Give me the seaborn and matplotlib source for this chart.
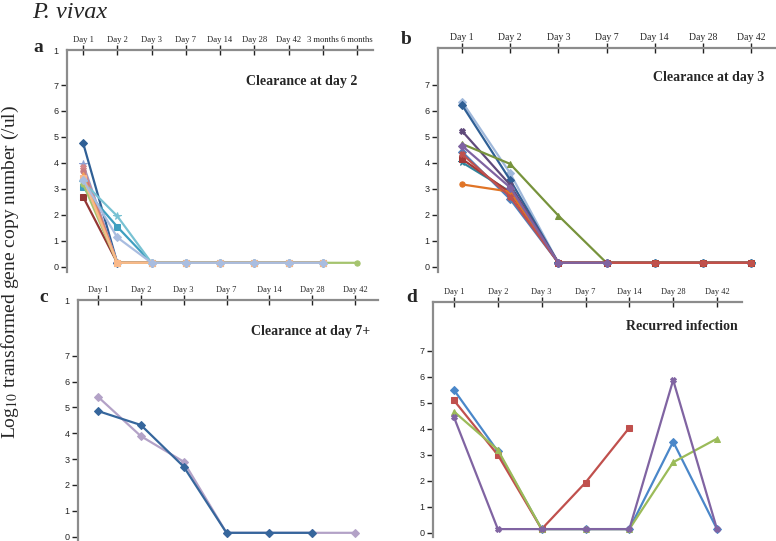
import matplotlib
matplotlib.use("Agg")
import matplotlib.pyplot as plt
import seaborn as sns

sns.set_style("white")
plt.rcParams['font.family'] = ['Liberation Serif', 'DejaVu Serif']
plt.rcParams['mathtext.fontset'] = 'stix'

W, H = 776, 541

# x tick labels
days_a = ['Day 1', 'Day 2', 'Day 3', 'Day 7', 'Day 14', 'Day 28', 'Day 42', '3 months', '6 months']
days_b = ['Day 1', 'Day 2', 'Day 3', 'Day 7', 'Day 14', 'Day 28', 'Day 42']

# panel a - clearance at day 2 (log10 values, undetectable drawn at 0.15)
a_darkblue = [4.78, 0.15, 0.15, 0.15, 0.15, 0.15, 0.15, 0.15]
a_periwinkle = [3.96, 0.15, 0.15, 0.15, 0.15, 0.15, 0.15, 0.15]
a_pink = [3.85, 0.15, 0.15, 0.15, 0.15, 0.15, 0.15, 0.15]
a_rose = [3.7, 0.15, 0.15, 0.15, 0.15, 0.15, 0.15, 0.15]
a_orange = [3.53, 0.15, 0.15, 0.15, 0.15, 0.15, 0.15, 0.15]
a_lightorange = [3.42, 0.15, 0.15, 0.15, 0.15, 0.15, 0.15, 0.15]
a_teal = [3.06, 1.54, 0.15, 0.15, 0.15, 0.15, 0.15, 0.15]
a_lightteal = [3.27, 1.95, 0.15, 0.15, 0.15, 0.15, 0.15, 0.15]
a_darkred = [2.7, 0.15, 0.15, 0.15, 0.15, 0.15, 0.15, 0.15]
a_green = [3.2, 0.15, 0.15, 0.15, 0.15, 0.15, 0.15, 0.15, 0.15]
a_bluegray = [3.34, 1.13, 0.15, 0.15, 0.15, 0.15, 0.15, 0.15]

# panel b - clearance at day 3
b_lightblue = [6.36, 3.6, 0.15, 0.15, 0.15, 0.15, 0.15]
b_darkblue = [6.23, 3.34, 0.15, 0.15, 0.15, 0.15, 0.15]
b_darkpurple = [5.23, 3.15, 0.15, 0.15, 0.15, 0.15, 0.15]
b_olive = [4.73, 3.96, 1.97, 0.15, 0.15, 0.15, 0.15]
b_blue = [4.43, 2.6, 0.15, 0.15, 0.15, 0.15, 0.15]
b_teal = [4.02, 2.89, 0.15, 0.15, 0.15, 0.15, 0.15]
b_darkred = [4.15, 2.85, 0.15, 0.15, 0.15, 0.15, 0.15]
b_orange = [3.17, 2.89, 0.15, 0.15, 0.15, 0.15, 0.15]
b_red = [4.34, 2.7, 0.15, 0.15, 0.15, 0.15, 0.15]
b_purple = [4.66, 3.05, 0.15, 0.15]

# panel c - clearance at day 7+
c_lilac = [5.41, 3.89, 2.9, 0.15, 0.15, 0.15, 0.15]
c_blue = [4.86, 4.32, 2.71, 0.15, 0.15, 0.15]

# panel d - recurred infection
d_blue = [5.5, 3.14, 0.15, 0.15, 0.15, 3.51, 0.15]
d_red = [5.1, 3.0, 0.15, 1.94, 4.05]
d_green = [4.67, 3.2, 0.15, 0.15, 0.15, 2.72, 3.63]
d_purple = [4.45, 0.15, 0.15, 0.15, 0.15, 5.88, 0.15]

series_a = [
    (a_darkred, '#943634', 's'), (a_darkblue, '#2f5f95', 'D'), (a_periwinkle, '#8fa1d4', '*'),
    (a_pink, '#d4878a', 'X'), (a_rose, '#c77b7f', 'o'), (a_teal, '#3f9fc0', 's'),
    (a_lightteal, '#78c2d3', '*'), (a_orange, '#f5a05a', '^'), (a_green, '#a5c46e', 'o'),
    (a_lightorange, '#f9b98a', 's'), (a_bluegray, '#a9bde0', 'D'),
]
series_b = [
    (b_lightblue, '#9fb8db', 'D'), (b_darkblue, '#2f5f95', 'D'), (b_darkpurple, '#5f4a7b', 'X'),
    (b_olive, '#77933c', '^'), (b_blue, '#4f81bd', 'D'), (b_teal, '#31859c', '*'),
    (b_darkred, '#a33a38', 's'), (b_orange, '#e07426', 'o'), (b_red, '#c0504d', 'X'),
    (b_purple, '#7f63a1', 'D'),
]
series_c = [(c_lilac, '#b3a2c7', 'D'), (c_blue, '#36669c', 'D')]
series_d = [(d_blue, '#4a87c9', 'D'), (d_red, '#c0504d', 's'),
            (d_green, '#9bbb59', '^'), (d_purple, '#8064a2', 'X')]

fig = plt.figure(figsize=(W / 100, H / 100), dpi=100)


def make_panel(L, R, T, B, y0, y7, xf, xl, labels, series, xfs):
    ax = fig.add_axes([L / W, 1 - B / H, (R - L) / W, (B - T) / H])
    n = len(labels) - 1
    ux = (xl - xf) / n
    uy = (y0 - y7) / 7
    ax.set_xlim(-(xf - L) / ux, n + (R - xl) / ux)
    ax.set_ylim(-(B - y0) / uy, (y0 - T) / uy)
    for vals, col, mk in series:
        ms = 5.5 if mk == '*' else 3.8
        sns.lineplot(x=list(range(len(vals))), y=vals, ax=ax, color=col, marker=mk,
                     markersize=ms, linewidth=1.6, markeredgecolor=col, sort=False)
    ax.xaxis.tick_top()
    ax.set_xticks(range(len(labels)))
    ax.set_xticklabels(labels, fontsize=xfs)
    ax.set_yticks(range(8))
    ax.set_yticklabels([str(i) for i in range(8)], fontsize=6.5, family='Liberation Sans')
    ax.tick_params(axis='x', direction='inout', length=7, width=1, color='#222222', pad=1)
    ax.tick_params(axis='y', direction='out', length=4, width=1, color='#222222', pad=2, left=True)
    for s in ['right', 'bottom']:
        ax.spines[s].set_visible(False)
    for s in ['top', 'left']:
        ax.spines[s].set_color('#8c8c8c')
        ax.spines[s].set_linewidth(1.6)
    ax.set_xlabel('')
    ax.set_ylabel('')
    ax.patch.set_alpha(0)
    return ax


def ftext(x, y, s, **kw):
    fig.text(x / W, 1 - y / H, s, **kw)


make_panel(67, 373, 50, 272, 266.7, 85, 83, 357, days_a, series_a, 6.2)
make_panel(438, 776, 48, 272, 266.7, 85, 462, 751, days_b, series_b, 7)
make_panel(78, 378, 300, 541, 536.7, 355.7, 98, 355, days_b, series_c, 6)
make_panel(433, 742, 302, 537, 533, 351, 454, 717, days_b, series_d, 6)

# stray "1" labels at the top of the y axes
ftext(56, 51, '1', fontsize=6.5, family='Liberation Sans', ha='center', va='center')
ftext(67, 301, '1', fontsize=6.5, family='Liberation Sans', ha='center', va='center')

ftext(357, 82, 'Clearance at day 2', fontsize=10, fontweight='bold', ha='right', va='center')
ftext(764, 78, 'Clearance at day 3', fontsize=10, fontweight='bold', ha='right', va='center')
ftext(370, 332, 'Clearance at day 7+', fontsize=10, fontweight='bold', ha='right', va='center')
ftext(738, 327, 'Recurred infection', fontsize=10, fontweight='bold', ha='right', va='center')

ftext(38, 47, 'a', fontsize=14, fontweight='bold', ha='center', va='center')
ftext(406, 40, 'b', fontsize=14, fontweight='bold', ha='center', va='center')
ftext(44, 297, 'c', fontsize=14, fontweight='bold', ha='center', va='center')
ftext(412, 297, 'd', fontsize=14, fontweight='bold', ha='center', va='center')

ftext(32, 12, 'P. vivax', fontsize=17.5, style='italic', ha='left', va='center')
ftext(10, 272, r'Log$_{10}$ transformed gene copy number (/ul)', fontsize=14, rotation=90,
      ha='center', va='center')

fig.savefig('out.png', dpi=100)
